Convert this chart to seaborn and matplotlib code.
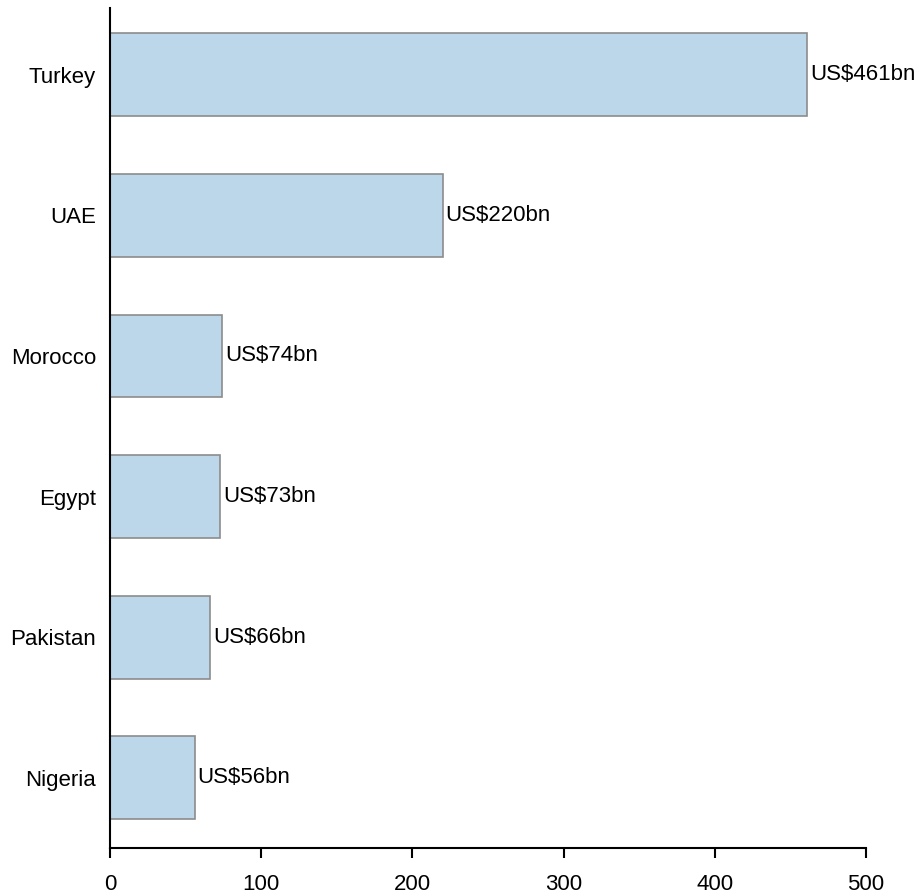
import matplotlib
matplotlib.use("Agg")
import matplotlib.pyplot as plt
import seaborn as sns
import pandas as pd

countries = ["Turkey", "UAE", "Morocco", "Egypt", "Pakistan", "Nigeria"]
values = [461, 220, 74, 73, 66, 56]
labels = ["US$461bn", "US$220bn", "US$74bn", "US$73bn", "US$66bn", "US$56bn"]
xticks = [0, 100, 200, 300, 400, 500]

sns.set_style("white")
plt.rcParams["font.family"] = ["Liberation Sans", "DejaVu Sans"]

df = pd.DataFrame({"country": countries, "value": values})

fig = plt.figure(figsize=(9.21, 8.96), dpi=100)
ax = fig.add_axes([0.1194, 0.0536, 0.8209, 0.9374])
sns.barplot(data=df, x="value", y="country", orient="h", color="#BDD7EA",
            saturation=1, edgecolor="#8C8C8C", linewidth=1.2, width=0.59, ax=ax)

for i, (v, lab) in enumerate(zip(values, labels)):
    ax.text(v + 2.0, i, lab, va="center", ha="left", fontsize=16, color="black")

ax.set_xlim(0, 500)
ax.set_ylim(5.5, -0.475)
ax.set_xticks(xticks)
ax.set_xlabel("")
ax.set_ylabel("")
for s in ["top", "right"]:
    ax.spines[s].set_visible(False)
for s in ["left", "bottom"]:
    ax.spines[s].set_color("black")
    ax.spines[s].set_linewidth(1.5)
ax.tick_params(axis="x", bottom=True, direction="out", length=7, width=1.5,
               labelsize=16, pad=12, colors="black")
ax.tick_params(axis="y", left=False, length=0, labelsize=16, pad=10, colors="black")

fig.savefig("out.png", dpi=100)
